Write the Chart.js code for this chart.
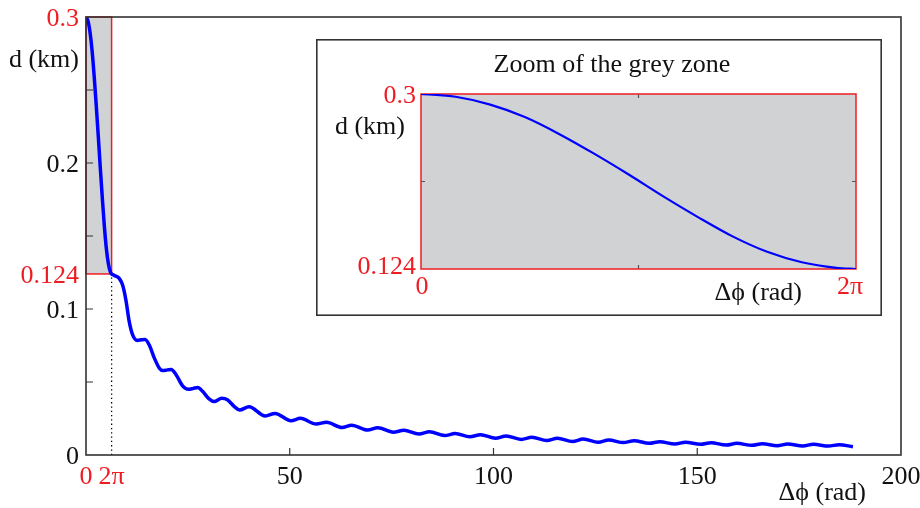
<!DOCTYPE html>
<html>
<head>
<meta charset="utf-8">
<script src="https://cdn.jsdelivr.net/npm/chart.js@4.4.0/dist/chart.umd.min.js"></script>
<style>
  html, body { margin: 0; padding: 0; background: #fff; }
  #wrap { position: relative; width: 920px; height: 508px; }
  #mainChart { position: absolute; left: 0; top: 0; }
  #zoomChart { position: absolute; left: 316px; top: 39px; }
</style>
</head>
<body>
<div id="wrap">
  <canvas id="mainChart" width="920" height="508"></canvas>
  <canvas id="zoomChart" width="566" height="277"></canvas>
</div>
<script>
// grey zone, 0 .. 2pi
var zoneXRange = [0, 2 * Math.PI];
var zoneYRange = [0.124, 0.3];
var zoneX = [0, 0.5, 1.0, 1.5, 2.0, 2.5, 3.0, 3.5, 4.0, 4.5, 5.0, 5.5, 6.0, 6.2832];
var zoneD = [0.3, 0.2972, 0.2893, 0.2768, 0.2596, 0.2400, 0.2190, 0.1970, 0.1762, 0.1568, 0.1413, 0.1308, 0.1252, 0.1240];

// rest of the curve after 2pi
var tailX = [6.95, 8.2, 9.0, 9.8, 10.6, 11.4, 12.57, 13.6, 14.5, 15.5, 16.8, 18.0, 18.85, 20.0, 20.9, 22.1, 23.7, 25.13, 26.3, 27.4,
  28.6, 30.2, 31.42, 33.3, 34.7, 36.4, 37.7, 40.0, 44.0, 46.4, 50.3, 52.6, 56.5, 59.0, 62.8, 65.2, 69.1, 71.6, 75.4, 78.0,
  81.7, 84.3, 88.0, 90.6, 94.2, 96.8, 100.5, 103.1, 106.8, 109.4, 113.1, 115.7, 119.4, 122.0, 125.7, 128.3, 131.9, 134.5,
  138.2, 140.8, 144.5, 147.1, 150.8, 153.4, 157.1, 159.7, 163.4, 166.0, 169.6, 172.2, 175.9, 178.5, 182.2, 184.8, 188.2];
var tailD = [0.1230, 0.1208, 0.1162, 0.1060, 0.0915, 0.0826, 0.0785, 0.0789, 0.0791, 0.0755, 0.0662, 0.0594, 0.0578, 0.0583, 0.0586, 0.0550, 0.0474, 0.0450, 0.0456, 0.0463,
  0.0436, 0.0384, 0.0366, 0.0388, 0.0378, 0.0332, 0.0308, 0.0331, 0.0267, 0.0285, 0.0235, 0.0251, 0.0212, 0.0224, 0.0188, 0.0204, 0.0171, 0.0187, 0.0156, 0.0170,
  0.0144, 0.0159, 0.0133, 0.0147, 0.0125, 0.0139, 0.0115, 0.0130, 0.0107, 0.0121, 0.0099, 0.0115, 0.0092, 0.0109, 0.0087, 0.0102, 0.0085, 0.0098,
  0.0080, 0.0091, 0.0075, 0.0087, 0.0073, 0.0084, 0.0068, 0.0080, 0.0066, 0.0077, 0.0064, 0.0075, 0.0062, 0.0073, 0.0061, 0.0071, 0.0057];

// main axes
var xTickVals = [0, 2 * Math.PI, 50, 100, 150, 200];
var xTickLabels = ['0', '2π', '50', '100', '150', '200'];
var xMarkVals = [50, 100, 150];
var yTickVals = [0, 0.1, 0.124, 0.2, 0.3];
var yTickLabels = ['0', '0.1', '0.124', '0.2', '0.3'];
var yMarkVals = [0.05, 0.1, 0.15, 0.2, 0.25];

// inset axes
var zoomTitle = 'Zoom of the grey zone';
var zoomXLabels = ['0', '2π'];
var zoomYLabels = ['0.124', '0.3'];

var RED = '#ee1d23';
var GREY = '#d1d2d4';
var AXIS = '#333333';
var FONT = '26px "Liberation Serif", "Times New Roman", serif';

function isZoneVal(v, range) { return Math.abs(v - range[0]) < 1e-9 || Math.abs(v - range[1]) < 1e-9; }

var mainPts = zoneX.map(function (x, i) { return { x: x, y: zoneD[i] }; })
  .concat(tailX.map(function (x, i) { return { x: x, y: tailD[i] }; }));
var zoomPts = zoneX.map(function (x, i) { return { x: x, y: zoneD[i] }; });

var mainDecor = {
  id: 'mainDecor',
  beforeDatasetsDraw: function (chart) {
    var ctx = chart.ctx, xs = chart.scales.x, ys = chart.scales.y;
    var l = xs.getPixelForValue(zoneXRange[0]), r = xs.getPixelForValue(zoneXRange[1]);
    var t = ys.getPixelForValue(zoneYRange[1]), b = ys.getPixelForValue(zoneYRange[0]);
    ctx.save();
    ctx.fillStyle = GREY;
    ctx.fillRect(l, t, r - l, b - t);
    ctx.strokeStyle = RED;
    ctx.lineWidth = 1.5;
    ctx.strokeRect(l, t, r - l, b - t);
    // dotted line under the zone
    ctx.strokeStyle = '#000';
    ctx.lineWidth = 1.3;
    ctx.setLineDash([1.3, 3]);
    ctx.beginPath();
    ctx.moveTo(r, ys.getPixelForValue(0));
    ctx.lineTo(r, b + 2);
    ctx.stroke();
    ctx.restore();
  },
  afterDraw: function (chart) {
    var ctx = chart.ctx, a = chart.chartArea, xs = chart.scales.x, ys = chart.scales.y;
    ctx.save();
    ctx.strokeStyle = AXIS;
    ctx.lineWidth = 1.6;
    ctx.strokeRect(a.left, a.top, a.right - a.left, a.bottom - a.top);
    ctx.lineWidth = 1.2;
    ctx.beginPath();
    yMarkVals.forEach(function (v) {
      var y = ys.getPixelForValue(v);
      ctx.moveTo(a.left, y); ctx.lineTo(a.left + 7, y);
    });
    xMarkVals.forEach(function (v) {
      var x = xs.getPixelForValue(v);
      ctx.moveTo(x, a.bottom); ctx.lineTo(x, a.bottom - 7);
    });
    ctx.stroke();

    ctx.font = FONT;
    ctx.textBaseline = 'alphabetic';
    ctx.textAlign = 'right';
    yTickVals.forEach(function (v, i) {
      ctx.fillStyle = isZoneVal(v, zoneYRange) ? RED : '#111';
      ctx.fillText(yTickLabels[i], a.left - 7, ys.getPixelForValue(v) + 9);
    });
    ctx.fillStyle = '#111';
    ctx.fillText('d (km)', a.left - 7, 67);
    ctx.textAlign = 'center';
    xTickVals.forEach(function (v, i) {
      ctx.fillStyle = isZoneVal(v, zoneXRange) ? RED : '#111';
      ctx.fillText(xTickLabels[i], xs.getPixelForValue(v), a.bottom + 29);
    });
    ctx.fillStyle = '#111';
    ctx.textAlign = 'right';
    ctx.fillText('Δϕ (rad)', 866, 500);
    ctx.restore();
  }
};

var zoomDecor = {
  id: 'zoomDecor',
  beforeDraw: function (chart) {
    var ctx = chart.ctx;
    ctx.save();
    ctx.fillStyle = '#fff';
    ctx.fillRect(0, 0, chart.width, chart.height);
    ctx.restore();
  },
  beforeDatasetsDraw: function (chart) {
    var ctx = chart.ctx, a = chart.chartArea;
    ctx.save();
    ctx.fillStyle = GREY;
    ctx.fillRect(a.left, a.top, a.right - a.left, a.bottom - a.top);
    ctx.strokeStyle = '#555';
    ctx.lineWidth = 1.2;
    var mx = (a.left + a.right) / 2, my = (a.top + a.bottom) / 2;
    ctx.beginPath();
    ctx.moveTo(mx, a.top); ctx.lineTo(mx, a.top + 4);
    ctx.moveTo(mx, a.bottom); ctx.lineTo(mx, a.bottom - 4);
    ctx.moveTo(a.left, my); ctx.lineTo(a.left + 4, my);
    ctx.moveTo(a.right, my); ctx.lineTo(a.right - 4, my);
    ctx.stroke();
    ctx.strokeStyle = RED;
    ctx.lineWidth = 1.5;
    ctx.strokeRect(a.left, a.top, a.right - a.left, a.bottom - a.top);
    ctx.restore();
  },
  afterDraw: function (chart) {
    var ctx = chart.ctx, a = chart.chartArea;
    ctx.save();
    ctx.strokeStyle = AXIS;
    ctx.lineWidth = 1.6;
    ctx.strokeRect(0.8, 0.8, chart.width - 1.6, chart.height - 1.6);
    ctx.font = FONT;
    ctx.textBaseline = 'alphabetic';
    ctx.fillStyle = '#111';
    ctx.textAlign = 'center';
    ctx.fillText(zoomTitle, 296, 33);
    ctx.textAlign = 'right';
    ctx.fillText('d (km)', 89, 95);
    ctx.fillText('Δϕ (rad)', 486, 261);
    ctx.fillStyle = RED;
    ctx.fillText(zoomYLabels[1], a.left - 5, a.top + 9);
    ctx.fillText(zoomYLabels[0], a.left - 5, a.bottom + 5);
    ctx.textAlign = 'center';
    ctx.fillText(zoomXLabels[0], a.left + 1, 255);
    ctx.fillText(zoomXLabels[1], a.right - 6, 255);
    ctx.restore();
  }
};

new Chart(document.getElementById('mainChart'), {
  type: 'line',
  data: {
    datasets: [{
      data: mainPts,
      borderColor: '#0000ff',
      borderWidth: 3.5,
      pointRadius: 0,
      cubicInterpolationMode: 'monotone',
      fill: false
    }]
  },
  options: {
    responsive: false,
    animation: false,
    layout: { padding: { left: 86, top: 17, right: 19, bottom: 53 } },
    plugins: { legend: { display: false }, tooltip: { enabled: false } },
    scales: {
      x: { type: 'linear', min: 0, max: 200, display: false },
      y: { type: 'linear', min: 0, max: 0.3, display: false }
    }
  },
  plugins: [mainDecor]
});

new Chart(document.getElementById('zoomChart'), {
  type: 'line',
  data: {
    datasets: [{
      data: zoomPts,
      borderColor: '#0000ff',
      borderWidth: 2.2,
      pointRadius: 0,
      cubicInterpolationMode: 'monotone',
      fill: false
    }]
  },
  options: {
    responsive: false,
    animation: false,
    layout: { padding: { left: 105, top: 55, right: 26, bottom: 47 } },
    plugins: { legend: { display: false }, tooltip: { enabled: false } },
    scales: {
      x: { type: 'linear', min: zoneXRange[0], max: zoneXRange[1], display: false },
      y: { type: 'linear', min: zoneYRange[0], max: zoneYRange[1], display: false }
    }
  },
  plugins: [zoomDecor]
});
</script>
</body>
</html>
